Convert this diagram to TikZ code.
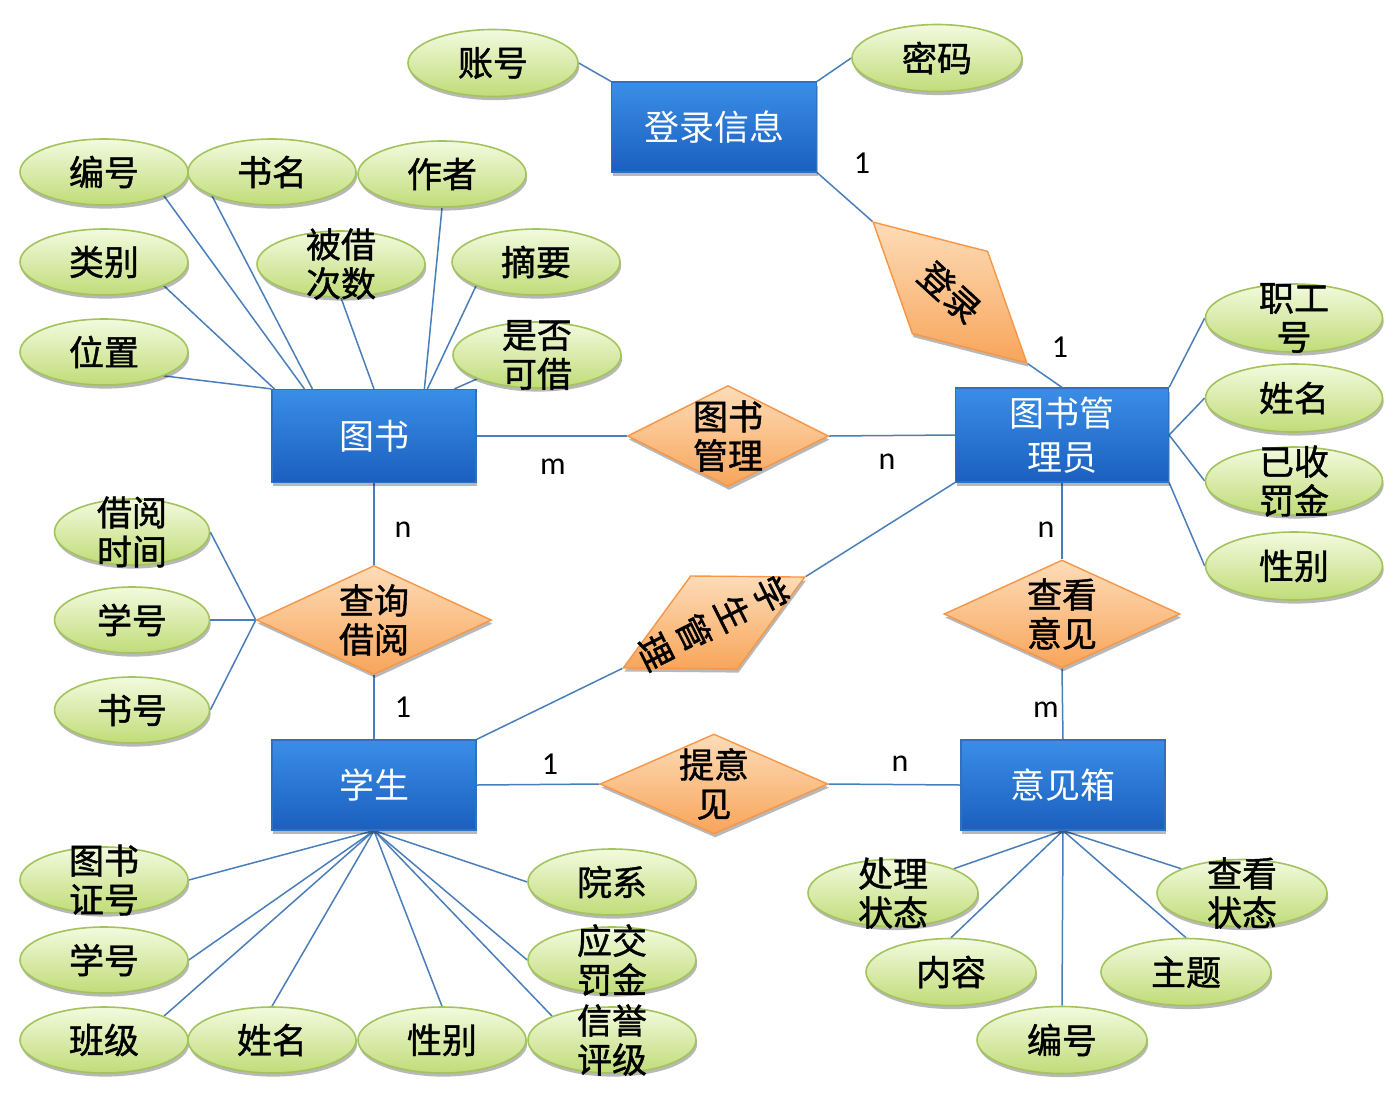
\documentclass[tikz,border=0pt]{standalone}
\usepackage{fontspec}
\setmainfont{Carlito}
\newfontfamily\cjk{Noto Sans CJK SC}
\newfontfamily\cjkb[FakeBold=1.2]{Noto Sans CJK SC}
\usetikzlibrary{shapes.geometric,shadows,backgrounds}
\definecolor{entTop}{HTML}{3A8EE6}
\definecolor{entBot}{HTML}{1B5FBF}
\definecolor{entLine}{HTML}{3070C0}
\definecolor{relTop}{HTML}{FDDCB8}
\definecolor{relBot}{HTML}{F8A55A}
\definecolor{relLine}{HTML}{F79646}
\definecolor{attTop}{HTML}{F3FADF}
\definecolor{attBot}{HTML}{C0DC78}
\definecolor{attLine}{HTML}{A3C45C}
\definecolor{lineC}{HTML}{4A7EBB}
\newcommand\AttrNode[5]{%
  \node[attrbox,#5] (#1) at (#2,#3) {};
  \node[btxt] (#1-t) at (#1.center) {#4};
}
\newcommand\EntNode[6]{%
  \node[entbox,minimum width=#5,minimum height=#6] (#1) at (#2,#3) {};
  \node[wtxt] (#1-t) at (#1.center) {#4};
}
\newcommand\RelNode[7]{%
  \node[relbox,minimum width=#5,minimum height=#6,rotate=#7] (#1) at (#2,#3) {};
  \node[btxt,rotate=#7] (#1-t) at (#1.center) {#4};
}
\begin{document}
\begin{tikzpicture}[x=0.5pt,y=-0.5pt,
  shd/.style={drop shadow={shadow xshift=0.6pt,shadow yshift=-1.8pt,opacity=0.28,fill=black}},
  entbox/.style={rectangle,inner sep=0pt,top color=entTop,bottom color=entBot,draw=entLine,line width=0.6pt,shd},
  relbox/.style={diamond,inner sep=0pt,top color=relTop,bottom color=relBot,draw=relLine,line width=0.7pt,shd},
  attrbox/.style={ellipse,inner sep=0pt,minimum width=84pt,minimum height=33pt,top color=attTop,bottom color=attBot,draw=attLine,line width=0.8pt,shd},
  btxt/.style={font=\cjkb\fontsize{17.5pt}{19.5pt}\selectfont,align=center,inner sep=0pt,text=black},
  wtxt/.style={font=\cjk\fontsize{17.5pt}{22pt}\selectfont,align=center,inner sep=0pt,text=white},
  card/.style={font=\fontsize{16pt}{16pt}\selectfont,inner sep=0pt,text=black},
  conn/.style={draw=lineC,line width=0.75pt},
  wide/.style={minimum width=85pt,minimum height=33.5pt},
  mgrattr/.style={minimum width=88.5pt,minimum height=34pt},
  narrow/.style={minimum width=77.5pt,minimum height=33pt}]
\useasboundingbox (0,0) rectangle (1393,1099);

% entities
\EntNode{login}{714}{127}{登录信息}{102.5pt}{45pt}
\EntNode{book}{374}{436}{图书}{102pt}{46.5pt}
\EntNode{mgr}{1062}{435}{图书管\\理员}{106.5pt}{47pt}
\EntNode{stu}{374}{785}{学生}{102pt}{45pt}
\EntNode{box}{1063}{785}{意见箱}{102pt}{45pt}

% relationships
\RelNode{rBM}{728}{436}{图书\\管理}{100.5pt}{50.5pt}{0}
\RelNode{rQJ}{374}{620}{查询\\借阅}{117.5pt}{54.5pt}{0}
\RelNode{rTY}{714}{784}{提意\\见}{114pt}{50pt}{0}
\RelNode{rCK}{1062}{614}{查看\\意见}{118pt}{54pt}{0}
\RelNode{rLG}{950}{292.5}{登录}{104.5pt}{56pt}{-42.5}
\node[relbox,minimum width=101.75pt,minimum height=52.3pt,rotate=-153.4] (rXS) at (714,622.5) {};
\node[btxt,rotate=-63.4,font=\cjkb\fontsize{17.5pt}{21.5pt}\selectfont] (rXS-t) at (rXS.center) {学\\生\\管\\理};

% attributes
\AttrNode{zh}{493}{63}{账号}{wide}
\AttrNode{mm}{937}{58}{密码}{wide}
\AttrNode{b1}{104}{172}{编号}{}
\AttrNode{b2}{272}{172}{书名}{}
\AttrNode{b3}{442}{174}{作者}{}
\AttrNode{b4}{104}{262}{类别}{}
\AttrNode{b5}{341}{264}{被借\\次数}{}
\AttrNode{b6}{536}{262}{摘要}{}
\AttrNode{b7}{104}{352}{位置}{}
\AttrNode{b8}{537}{355}{是否\\可借}{}
\AttrNode{m1}{1294}{318}{职工\\号}{mgrattr}
\AttrNode{m2}{1294}{398}{姓名}{mgrattr}
\AttrNode{m3}{1294}{481}{已收\\罚金}{mgrattr}
\AttrNode{m4}{1294}{566}{性别}{mgrattr}
\AttrNode{j1}{132}{532}{借阅\\时间}{narrow}
\AttrNode{j2}{132}{620}{学号}{narrow}
\AttrNode{j3}{132}{710}{书号}{narrow}
\AttrNode{s1}{104}{880}{图书\\证号}{}
\AttrNode{s2}{104}{960}{学号}{}
\AttrNode{s3}{104}{1040}{班级}{}
\AttrNode{s4}{272}{1040}{姓名}{}
\AttrNode{s5}{442}{1040}{性别}{}
\AttrNode{s6}{612}{882}{院系}{}
\AttrNode{s7}{612}{960}{应交\\罚金}{}
\AttrNode{s8}{612}{1040}{信誉\\评级}{}
\AttrNode{x1}{893}{893}{处理\\状态}{wide}
\AttrNode{x2}{1242}{893}{查看\\状态}{wide}
\AttrNode{x3}{951}{972}{内容}{wide}
\AttrNode{x4}{1186}{972}{主题}{wide}
\AttrNode{x5}{1062}{1040}{编号}{wide}

% cardinalities
\node[card] (c1) at (862,163) {1};
\node[card] (c2) at (1060,347) {1};
\node[card] (c3) at (553,467) {m};
\node[card] (c4) at (887,462) {n};
\node[card] (c5) at (403,530) {n};
\node[card] (c6) at (403,707) {1};
\node[card] (c7) at (550,764) {1};
\node[card] (c8) at (900,764) {n};
\node[card] (c9) at (1046,530) {n};
\node[card] (c10) at (1046,710) {m};

\begin{scope}[on background layer]
\fill[white] (0,0) rectangle (1393,1099);
\draw[conn] (zh.east) -- (login.north west);
\draw[conn] (mm.west) -- (login.north east);
\draw[conn] (login.south east) -- (rLG.west);
\draw[conn] (rLG.east) -- (mgr.north);
\draw[conn] (book.east) -- (rBM.west);
\draw[conn] (rBM.east) -- (mgr.west);
\draw[conn] (mgr.south west) -- (rXS.west);
\draw[conn] (rXS.east) -- (stu.north east);
\draw[conn] (mgr.south) -- (rCK.north);
\draw[conn] (rCK.south) -- (box.north);
\draw[conn] (book.south) -- (rQJ.north);
\draw[conn] (rQJ.south) -- (stu.north);
\draw[conn] (stu.east) -- (rTY.west);
\draw[conn] (rTY.east) -- (box.west);
% book attributes
\draw[conn] (b1.south east) -- ([xshift=16.5pt]book.north west);
\draw[conn] (b2.south west) -- ([xshift=20.5pt]book.north west);
\draw[conn] (b4.south east) -- ([xshift=1.5pt]book.north west);
\draw[conn] (b7.south east) -- (book.north west);
\draw[conn] (b5.south) -- (book.north);
\draw[conn] (b3.south) -- ([xshift=76.5pt]book.north west);
\draw[conn] (b6.south west) -- ([xshift=78pt]book.north west);
\draw[conn] (b8.south west) -- ([xshift=91.5pt]book.north west);
% manager attributes
\draw[conn] (mgr.north east) -- (m1.west);
\draw[conn] (mgr.east) -- (m2.west);
\draw[conn] (mgr.east) -- (m3.west);
\draw[conn] (mgr.south east) -- (m4.west);
% borrow attributes
\draw[conn] (j1.east) -- (rQJ.west);
\draw[conn] (j2.east) -- (rQJ.west);
\draw[conn] (j3.east) -- (rQJ.west);
% student attributes
\draw[conn] (stu.south) -- (s1.east);
\draw[conn] (stu.south) -- (s2.east);
\draw[conn] (stu.south) -- (s3.north east);
\draw[conn] (stu.south) -- (s4.north);
\draw[conn] (stu.south) -- (s5.north);
\draw[conn] (stu.south) -- (s6.west);
\draw[conn] (stu.south) -- (s7.west);
\draw[conn] (stu.south) -- (s8.north west);
% box attributes
\draw[conn] (box.south) -- (x1.north east);
\draw[conn] (box.south) -- (x2.north west);
\draw[conn] (box.south) -- (x3.north);
\draw[conn] (box.south) -- (x4.north);
\draw[conn] (box.south) -- (x5.north);
\end{scope}
\end{tikzpicture}
\end{document}
